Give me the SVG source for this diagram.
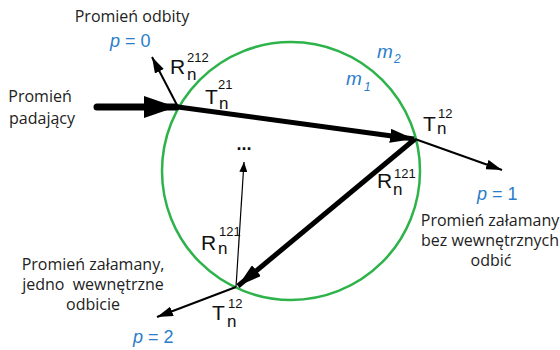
<svg xmlns="http://www.w3.org/2000/svg" width="560" height="350" viewBox="0 0 560 350">
<style>
.lbl{font-family:"Open Sans","Liberation Sans",sans-serif;font-size:16px;fill:#222}
.m{font-family:"Liberation Sans",Arial,sans-serif;fill:#111}
.big{font-size:21px}
.sup{font-size:13px}
.sub{font-size:17px}
.blue{font-family:"Liberation Sans",Arial,sans-serif;font-size:18px;fill:#2a7dc9}
.med{font-size:19px;font-style:italic}
.bsub{font-size:12px;font-style:italic}
.thick{stroke:#000;stroke-width:5;fill:none}
.thin{stroke:#000;stroke-width:2;fill:none}
.hair{stroke:#000;stroke-width:1.2;fill:none}
</style>
<defs>
<marker id="bigHead" markerUnits="userSpaceOnUse" viewBox="0 0 32 22" markerWidth="32" markerHeight="22" refX="32" refY="11" orient="auto"><path d="M0,0 L32,11 L0,22 Z" fill="#000"/></marker>
<marker id="midHead" markerUnits="userSpaceOnUse" viewBox="0 0 24 14" markerWidth="24" markerHeight="14" refX="24" refY="7" orient="auto"><path d="M0,0 L24,7 L0,14 Z" fill="#000"/></marker>
<marker id="smallHead" markerUnits="userSpaceOnUse" viewBox="0 0 16 10" markerWidth="16" markerHeight="10" refX="16" refY="5" orient="auto"><path d="M0,0 L16,5 L0,10 Z" fill="#000"/></marker>
<marker id="tinyHead" markerUnits="userSpaceOnUse" viewBox="0 0 10 8" markerWidth="10" markerHeight="8" refX="10" refY="4" orient="auto"><path d="M0,0 L10,4 L0,8 Z" fill="#000"/></marker>
</defs>
<g id="droplet"><circle cx="291" cy="171" r="129" fill="none" stroke="#2db34a" stroke-width="2.5"/></g>
<g id="connectors">
<line x1="97" y1="107" x2="176" y2="107" stroke="#000" stroke-width="7" stroke-linecap="round" marker-end="url(#bigHead)"/>
<line class="thin" x1="178" y1="107" x2="152" y2="57" marker-end="url(#smallHead)"/>
<line class="thick" x1="178" y1="107" x2="414" y2="139" marker-end="url(#midHead)"/>
<line class="thin" x1="415" y1="139" x2="502" y2="170" marker-end="url(#smallHead)"/>
<line class="thick" x1="415" y1="139" x2="238" y2="286" marker-end="url(#midHead)"/>
<line class="thin" x1="236" y1="287" x2="157" y2="317" marker-end="url(#smallHead)"/>
<line class="hair" x1="236" y1="287" x2="244" y2="162" marker-end="url(#tinyHead)"/>
</g>
<g id="label-reflected">
<text class="lbl" x="132" y="22" text-anchor="middle">Promień odbity</text>
<text class="blue" x="110" y="47"><tspan font-style="italic">p</tspan> = 0</text>
</g>
<g id="label-incident">
<text class="lbl" x="40" y="102" text-anchor="middle">Promień</text>
<text class="lbl" x="42" y="124" text-anchor="middle">padający</text>
</g>
<g id="R212">
<text class="m big" x="170" y="74">R</text><text class="m sup" x="187" y="62">212</text><text class="m sub" x="187" y="80">n</text>
</g>
<g id="T21">
<text class="m big" x="205" y="104">T</text><text class="m sup" x="218" y="89">21</text><text class="m sub" x="219" y="109">n</text>
</g>
<g id="media">
<text class="blue med" x="377" y="58">m</text><text class="blue bsub" x="394" y="63">2</text>
<text class="blue med" x="346" y="85">m</text><text class="blue bsub" x="364" y="91">1</text>
</g>
<g id="T12-right">
<text class="m big" x="423" y="131">T</text><text class="m sup" x="438" y="118">12</text><text class="m sub" x="437" y="134">n</text>
</g>
<g id="dots"><text class="m" x="244" y="150" font-size="18" font-weight="bold" text-anchor="middle">...</text></g>
<g id="R121-right">
<text class="m big" x="377" y="188">R</text><text class="m sup" x="394" y="178">121</text><text class="m sub" x="393" y="195">n</text>
</g>
<g id="label-p1">
<text class="blue" x="477" y="200"><tspan font-style="italic">p</tspan> = 1</text>
<text class="lbl" x="490" y="226" text-anchor="middle">Promień załamany</text>
<text class="lbl" x="490" y="246" text-anchor="middle">bez wewnętrznych</text>
<text class="lbl" x="491" y="266" text-anchor="middle">odbić</text>
</g>
<g id="R121-left">
<text class="m big" x="201" y="250">R</text><text class="m sup" x="219" y="236">121</text><text class="m sub" x="218" y="254">n</text>
</g>
<g id="label-p2">
<text class="lbl" x="93" y="270" text-anchor="middle">Promień załamany,</text>
<text class="lbl" x="93" y="290" text-anchor="middle" xml:space="preserve">jedno  wewnętrzne</text>
<text class="lbl" x="93" y="310" text-anchor="middle">odbicie</text>
<text class="blue" x="133" y="343"><tspan font-style="italic">p</tspan> = 2</text>
</g>
<g id="T12-bottom">
<text class="m big" x="212" y="320">T</text><text class="m sup" x="228" y="308">12</text><text class="m sub" x="227" y="327">n</text>
</g>
</svg>
